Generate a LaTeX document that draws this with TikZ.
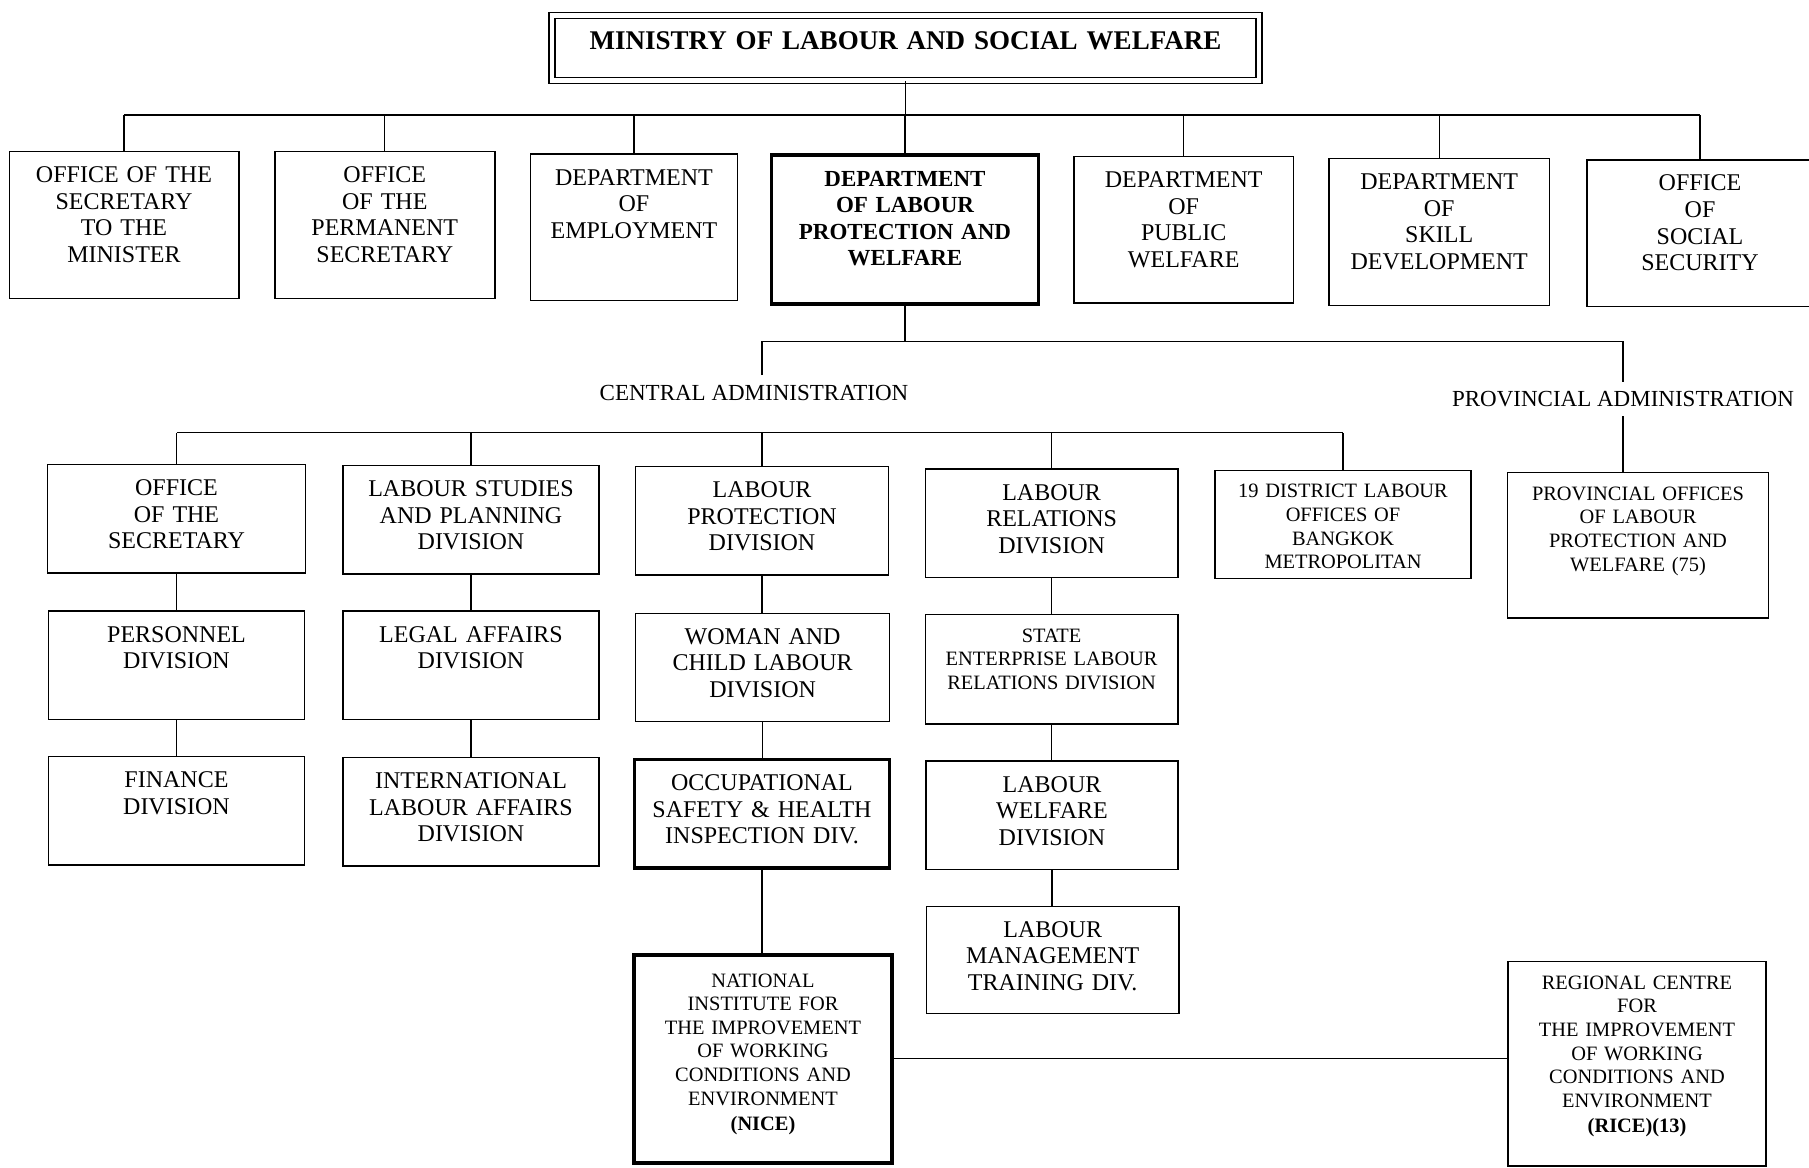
\documentclass[tikz,border=0pt]{standalone}
\usepackage{fontspec}
\setmainfont{Liberation Serif}
\newcommand\orgfont{\fontsize{12}{13.3}\selectfont}
\newcommand\orgsmall{\fontsize{10.2}{11.8}\selectfont}
\newcommand\orgtitle{\fontsize{13.5}{15}\selectfont\bfseries}

\begin{document}
\begin{tikzpicture}[x=0.5pt, y=-0.5pt,
  box/.style={draw, line width=0.7pt, anchor=north, inner sep=0pt, align=center, text height=15.5pt, font=\orgfont},
  dept/.style={box, text depth=57.8pt},
  div/.style={box, text width=128pt, text depth=38.7pt},
  small/.style={font=\orgsmall, text height=13.8pt},
  heavy/.style={line width=1.6pt},
  adm/.style={inner xsep=0pt, inner ysep=5pt, text height=7.6pt, text depth=0pt, font=\fontsize{11.5}{13}\selectfont},
  link/.style={line width=0.6pt}]
  \useasboundingbox (0,0) rectangle (1809,1167);

  \node[draw, double, double distance=2.4pt, line width=0.6pt, anchor=north, inner sep=0pt, align=center,
    text width=353.5pt, text height=17.35pt, text depth=15.4pt, font=\orgtitle] (ministry) at (905.5,14.5)
    {MINISTRY OF LABOUR AND SOCIAL WELFARE};

  % ministry level
  \node[dept, text width=114.8pt] (secmin) at (124,151) {OFFICE OF THE\\SECRETARY\\TO THE\\MINISTER};
  \node[dept, text width=110pt] (permsec) at (384.8,151) {OFFICE\\OF THE\\PERMANENT\\SECRETARY};
  \node[dept, text width=103.3pt] (employ) at (634,153.4) {DEPARTMENT\\OF\\EMPLOYMENT};
  \node[dept, heavy, text width=133.3pt, text depth=59pt, font=\fontsize{11.5}{13.3}\selectfont\bfseries] (labour) at (905,153.4)
    {DEPARTMENT\\OF LABOUR\\PROTECTION AND\\WELFARE};
  \node[dept, text width=109.7pt] (pubwel) at (1183.7,155.7) {DEPARTMENT\\OF\\PUBLIC\\WELFARE};
  \node[dept, text width=110.2pt] (skill) at (1439.2,158) {DEPARTMENT\\OF\\SKILL\\DEVELOPMENT};
  \node[dept, text width=113pt] (socsec) at (1700,159.2) {OFFICE\\OF\\SOCIAL\\SECURITY};

  \node[adm] (central) at (754,393) {CENTRAL ADMINISTRATION};
  \node[adm, inner ysep=4.5pt] (provadm) at (1623,399) {PROVINCIAL ADMINISTRATION};

  % divisions
  \node[div, text width=129.2pt] (office) at (176.5,463.8) {OFFICE\\OF THE\\SECRETARY};
  \node[div] (studies) at (471,465) {LABOUR STUDIES\\AND PLANNING\\DIVISION};
  \node[div, text width=126.3pt] (protect) at (762,466) {LABOUR\\PROTECTION\\DIVISION};
  \node[div, text width=126.3pt] (relat) at (1051.6,468.4) {LABOUR\\RELATIONS\\DIVISION};
  \node[div, small, text depth=40.4pt] (district) at (1343,469.5) {19 DISTRICT LABOUR\\OFFICES OF\\BANGKOK\\METROPOLITAN};
  \node[div, small, text width=130.3pt, text depth=58.9pt] (provoff) at (1638,471.9)
    {PROVINCIAL OFFICES\\OF LABOUR\\PROTECTION AND\\WELFARE (75)};

  \node[div] (personnel) at (176.5,610.3) {PERSONNEL\\DIVISION};
  \node[div] (legal) at (471,610.3) {LEGAL AFFAIRS\\DIVISION};
  \node[div, text width=127pt] (woman) at (762.6,612.6) {WOMAN AND\\CHILD LABOUR\\DIVISION};
  \node[div, small, text width=126.3pt, text depth=41pt] (state) at (1051.6,613.8) {STATE\\ENTERPRISE LABOUR\\RELATIONS DIVISION};

  \node[div] (finance) at (176.5,755.7) {FINANCE\\DIVISION};
  \node[div] (intl) at (471,756.8) {INTERNATIONAL\\LABOUR AFFAIRS\\DIVISION};
  \node[div, heavy, text width=127.5pt] (osh) at (762,758) {OCCUPATIONAL\\SAFETY \& HEALTH\\INSPECTION DIV.};
  \node[div, text width=126pt] (welfare) at (1052,760.3) {LABOUR\\WELFARE\\DIVISION};

  \node[div, text width=126.3pt, text depth=38.2pt] (training) at (1052.7,905.6) {LABOUR\\MANAGEMENT\\TRAINING DIV.};
  \node[div, small, line width=2pt, text width=128.7pt, text height=16pt, text depth=87.8pt] (nice) at (763,953)
    {NATIONAL\\INSTITUTE FOR\\THE IMPROVEMENT\\OF WORKING\\CONDITIONS AND\\ENVIRONMENT\\[1pt]\textbf{(NICE)}};
  \node[div, small, text width=129.1pt, text depth=88.4pt] (rice) at (1637,961)
    {REGIONAL CENTRE\\FOR\\THE IMPROVEMENT\\OF WORKING\\CONDITIONS AND\\ENVIRONMENT\\[1pt]\textbf{(RICE)(13)}};

  % connectors
  \coordinate (topbar) at (905,115);
  \draw[link] (ministry.south) -- (ministry.south |- topbar);
  \draw[link] (secmin.north |- topbar) -- (socsec.north |- topbar);
  \foreach \n in {secmin,permsec,employ,labour,pubwel,skill,socsec}
    \draw[link] (\n.north) -- (\n.north |- topbar);

  \coordinate (split) at (900,341.5);
  \draw[link] (labour.south) -- (labour.south |- split);
  \draw[link] (central.north -| protect.north) |- (provadm.north |- split) -- (provadm.north);

  \coordinate (cbar) at (762,432.6);
  \draw[link] (office.north |- cbar) -- (district.north |- cbar);
  \foreach \n in {office,studies,protect,relat,district}
    \draw[link] (\n.north) -- (\n.north |- cbar);
  \draw[link] (provadm.south) -- (provadm.south |- provoff.north);

  \foreach \a/\b in {office/personnel, personnel/finance, studies/legal, legal/intl, protect/woman,
    woman/osh, osh/nice, relat/state, state/welfare, welfare/training}
    \draw[link] (\a.south) -- (\a.south |- \b.north);
  \draw[link] (nice.east) -- (nice.east -| rice.west);
\end{tikzpicture}
\end{document}
